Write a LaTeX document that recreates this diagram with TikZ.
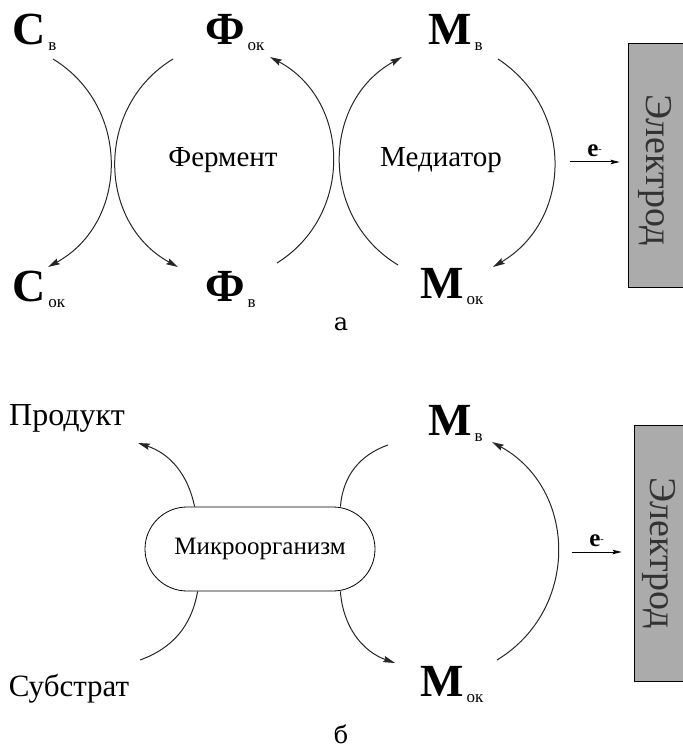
\documentclass[tikz,border=0pt]{standalone}
\usepackage{fontspec}
\setmainfont{LiberationSerif}[Extension=.ttf, UprightFont=*-Regular, BoldFont=*-Bold, ItalicFont=*-Italic, BoldItalicFont=*-BoldItalic]
\newfontfamily\panelfont{DejaVuSerif}[Extension=.ttf, UprightFont=*, BoldFont=*-Bold]
\usetikzlibrary{calc, arrows.meta, positioning}
\tikzset{
  species/.style={inner sep=0pt, anchor=base west, font=\fontsize{46}{46}\selectfont},
  cyctext/.style={inner sep=0pt, font=\fontsize{29}{29}\selectfont},
  cycarc/.style={line width=1pt, color=black!85},
  cycarrow/.style={cycarc, -{Stealth[length=12pt, width=6.5pt, inset=2pt]}},
  electrode/.style={draw, line width=0.8pt, fill=black!33, inner sep=0pt},
  electext/.style={inner sep=0pt, rotate=-90, text=black!80, font=\fontsize{38}{38}\selectfont},
  eflow/.style={line width=1pt, -{Stealth[length=9pt, width=4.5pt, inset=1.5pt]}},
  microbe/.style={draw, line width=0.8pt, rounded corners=42pt, minimum width=230pt, minimum height=84pt, font=\fontsize{25}{25}\selectfont},
  panel/.style={inner sep=0pt, font=\panelfont\fontsize{24}{24}\selectfont}
}
\newcommand{\spsub}[2]{\textbf{#1}\hspace{3pt}\raisebox{-6pt}{\fontsize{17}{17}\selectfont #2}}
\newcommand{\elabel}{\textbf{e}\raisebox{4pt}{\fontsize{10}{10}\selectfont -}}

\begin{document}
\begin{tikzpicture}[x=1pt, y=1pt]
  \useasboundingbox (0,0) rectangle (682,-751);

  % (a) enzyme and mediator cycles
  \node[species] (Cv) at (12,-45) {\spsub{C}{в}};
  \node[species] (Fok) at (205,-45) {\spsub{Ф}{ок}};
  \node[species] (Mv) at (428,-45) {\spsub{M}{в}};
  \node[species] (Cok) at (12,-301) {\spsub{C}{ок}};
  \node[species] (Fv) at (205,-301) {\spsub{Ф}{в}};
  \node[species] (Mok) at (420,-298) {\spsub{M}{ок}};
  \node[cyctext] (ferm) at (223,-160) {Фермент};
  \node[cyctext] (med) at (441,-160) {Медиатор};
  \node[electrode, minimum width=62pt, minimum height=244pt] (el1) at (659,-165) {};
  \node[electext] (et1) at ($(el1)+(-4,-5)$) {Электрод};
  \node[panel] (pa) at (341,-324) {а};

  \coordinate (cv1) at (53,-59);
  \coordinate (cok1) at (48,-267);
  \coordinate (fok1) at (173,-59);
  \coordinate (fv1) at (178,-267);
  \coordinate (fv2) at (277,-263);
  \coordinate (fok2) at (270,-57);
  \coordinate (mok1) at (398,-265);
  \coordinate (mv1) at (402,-57);
  \coordinate (mv2) at (498,-59);
  \coordinate (mok2) at (493,-267);

  \draw[cycarrow] (cv1) to[bend left=60, looseness=1.13] (cok1);
  \draw[cycarrow] (fok1) to[bend right=60, looseness=1.13] (fv1);
  \draw[cycarrow] (fv2) to[bend right=60, looseness=1.13] (fok2);
  \draw[cycarrow] (mok1) to[bend left=60, looseness=1.13] (mv1);
  \draw[cycarrow] (mv2) to[bend left=58, looseness=1.13] (mok2);

  \coordinate (e1) at ($(el1.west)+(-58,3)$);
  \draw[eflow] (e1) -- ++(50,0) node[midway, above=1pt, font=\fontsize{25}{25}\selectfont] (elab1) {\elabel};

  % (b) microorganism and mediator
  \node[cyctext, font=\fontsize{32}{32}\selectfont] (prod) at (67,-418) {Продукт};
  \node[cyctext, font=\fontsize{31}{31}\selectfont] (subst) at (69,-689) {Субстрат};
  \node[species] (Mv3) at (428,-435) {\spsub{M}{в}};
  \node[species] (Mok3) at (420,-696) {\spsub{M}{ок}};
  \node[microbe] (mic) at (260,-549) {Микроорганизм};
  \node[electrode, minimum width=56pt, minimum height=256pt] (el2) at (662,-553) {};
  \node[electext] (et2) at ($(el2)+(-3,0)$) {Электрод};
  \node[panel] (pb) at (341,-734) {б};

  \coordinate (prod1) at (138,-443);
  \coordinate (sub1) at (140,-660);
  \coordinate (mv4) at (388,-445);
  \coordinate (mok4) at (395,-663);
  \coordinate (mok5) at (497,-660);
  \coordinate (mv5) at (492,-442);

  \draw[cycarrow] ($(mic.north west)+(50,0)$) to[bend right=30] (prod1);
  \draw[cycarc] (sub1) to[bend right=30] ($(mic.south west)+(53,0)$);
  \draw[cycarc] ($(mic.north east)+(-35,0)$) to[bend left=33] (mv4);
  \draw[cycarrow] ($(mic.south east)+(-35,0)$) to[bend right=33] (mok4);
  \draw[cycarrow] (mok5) to[bend right=60, looseness=1.14] (mv5);

  \coordinate (e2) at ($(el2.west)+(-62,1)$);
  \draw[eflow] (e2) -- ++(50,0) node[midway, above=1pt, font=\fontsize{25}{25}\selectfont] (elab2) {\elabel};
\end{tikzpicture}
\end{document}
